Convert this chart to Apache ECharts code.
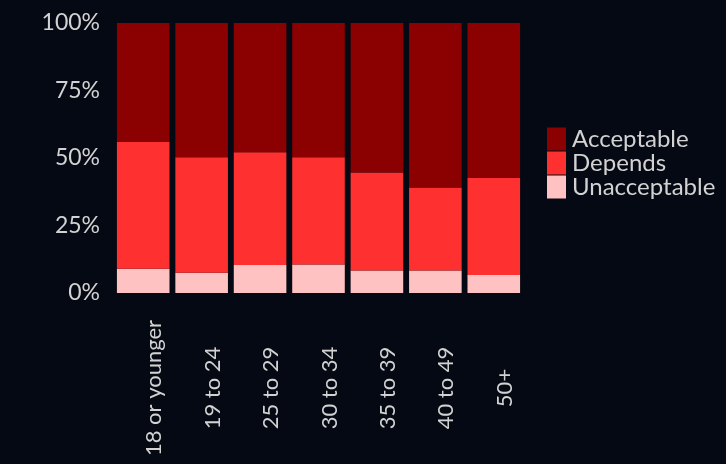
<!DOCTYPE html>
<html><head><meta charset="utf-8">
<script src="https://cdn.jsdelivr.net/npm/echarts@6/dist/echarts.min.js"></script>
<style>html,body{margin:0;padding:0;background:#050913;}#c{width:726px;height:464px;}</style>
</head><body><div id="c"></div>
<script>
const categories = ['18 or younger','19 to 24','25 to 29','30 to 34','35 to 39','40 to 49','50+'];
const unacceptable = [9, 7.5, 10.4, 10.6, 8.3, 8.3, 6.7];
const depends = [47, 42.8, 41.7, 39.7, 36.3, 30.8, 36];
const acceptable = [44, 49.7, 47.9, 49.7, 55.4, 60.9, 57.3];
const yTicks = ['0%','25%','50%','75%','100%'];

const font = 'Lato';
const txt = '#d2d2d2';
const chart = echarts.init(document.getElementById('c'));
chart.setOption({
  backgroundColor: '#050913',
  animation: false,
  grid: {left: 114, right: 203, top: 23, bottom: 171},
  legend: {
    orient: 'vertical', left: 542, top: 122,
    itemWidth: 19, itemHeight: 23, itemGap: 0,
    icon: 'rect',
    data: ['Acceptable','Depends','Unacceptable'],
    textStyle: {color: txt, fontSize: 24, fontFamily: font, padding: [0, 0, 0, 1]}
  },
  xAxis: {
    type: 'category', data: categories,
    axisLine: {show: false}, axisTick: {show: false},
    axisLabel: {rotate: 90, align: 'center', verticalAlign: 'top', margin: 95,
      color: txt, fontSize: 22, fontFamily: font}
  },
  yAxis: {
    type: 'value', min: 0, max: 100, interval: 25,
    splitLine: {show: false}, axisLine: {show: false}, axisTick: {show: false},
    axisLabel: {margin: 14, color: txt, fontSize: 23, fontFamily: font,
      formatter: v => yTicks[v / 25]}
  },
  series: [
    {name: 'Unacceptable', type: 'bar', stack: 's', data: unacceptable, barCategoryGap: '10%', itemStyle: {color: '#ffc2c2'}},
    {name: 'Depends', type: 'bar', stack: 's', data: depends, itemStyle: {color: '#ff3030'}},
    {name: 'Acceptable', type: 'bar', stack: 's', data: acceptable, itemStyle: {color: '#8b0000'}}
  ]
});
</script></body></html>
